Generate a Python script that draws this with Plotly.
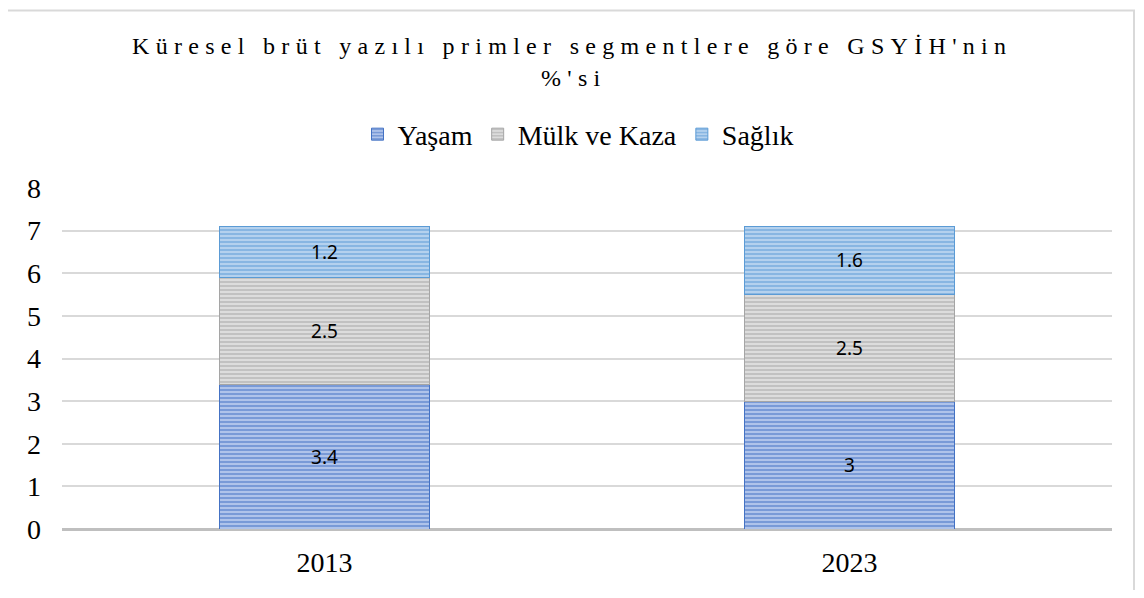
import plotly.graph_objects as go

years = ["2013", "2023"]
series_names = ["Yaşam", "Mülk ve Kaza", "Sağlık"]
yasam = [3.4, 3.0]
mulk = [2.5, 2.5]
saglik = [1.2, 1.6]
label_text = {
    "Yaşam": ["3.4", "3"],
    "Mülk ve Kaza": ["2.5", "2.5"],
    "Sağlık": ["1.2", "1.6"],
}
title_line1 = "Küresel brüt yazılı primler segmentlere göre GSYİH'nin"
title_line2 = "%'si"

colors = {"Yaşam": "#4472C4", "Mülk ve Kaza": "#A5A5A5", "Sağlık": "#5B9BD5"}
bg = {"Yaşam": "#AFC3EA", "Mülk ve Kaza": "#DCDCDC", "Sağlık": "#B4D1EE"}

W, H = 1128, 582
L, R, T, B = 54, 24, 180, 58
PW, PH = W - L - R, H - T - B


def py(fy):
    return (H - B - fy) / PH


def px(fx):
    return (fx - L) / PW


fig = go.Figure()
for name, vals in zip(series_names, [yasam, mulk, saglik]):
    fig.add_trace(go.Bar(
        x=years, y=vals, name=name,
        text=label_text[name], textposition="inside", insidetextanchor="middle",
        textfont=dict(family="Noto Sans, Liberation Sans", size=19, color="#000000"),
        marker=dict(
            color=colors[name],
            line=dict(color=colors[name], width=1),
            pattern=dict(shape="-", fgcolor=colors[name], bgcolor=bg[name],
                         size=4, solidity=0.5, fillmode="overlay"),
        ),
        width=0.4,
    ))

fig.update_layout(
    barmode="stack",
    width=W, height=H,
    paper_bgcolor="white", plot_bgcolor="white",
    margin=dict(l=L, r=R, t=T, b=B),
    legend=dict(
        orientation="h", x=px(570), xanchor="center", y=py(126), yanchor="middle",
        font=dict(family="Liberation Serif", size=28, color="#000000"),
        itemwidth=30, traceorder="normal",
    ),
    showlegend=True,
    xaxis=dict(
        tickfont=dict(family="Liberation Serif", size=28, color="#000000"),
        showgrid=False, ticks="", showline=False, ticklabelstandoff=14,
    ),
    yaxis=dict(
        range=[0, 8], dtick=1,
        tickfont=dict(family="Liberation Serif", size=28, color="#000000"),
        showgrid=True, gridcolor="#D9D9D9", gridwidth=1.5,
        zeroline=True, zerolinecolor="#BFBFBF", zerolinewidth=3,
        ticks="", ticklabelstandoff=20,
    ),
    annotations=[
        dict(text='<span style="letter-spacing:6.3px">' + title_line1 + '</span>',
             xref="paper", yref="paper", x=px(564), y=py(37),
             xanchor="center", yanchor="middle", showarrow=False,
             font=dict(family="Liberation Serif", size=24, color="#000000")),
        dict(text='<span style="letter-spacing:6.3px">' + title_line2 + '</span>',
             xref="paper", yref="paper", x=px(566), y=py(69),
             xanchor="center", yanchor="middle", showarrow=False,
             font=dict(family="Liberation Serif", size=24, color="#000000")),
    ],
    shapes=[dict(type="rect", xref="paper", yref="paper",
                 x0=px(-2), x1=px(W - 2), y0=py(H + 10), y1=py(1),
                 line=dict(color="#D9D9D9", width=2), fillcolor="rgba(0,0,0,0)",
                 layer="below")],
)

fig.write_html("out.html")
